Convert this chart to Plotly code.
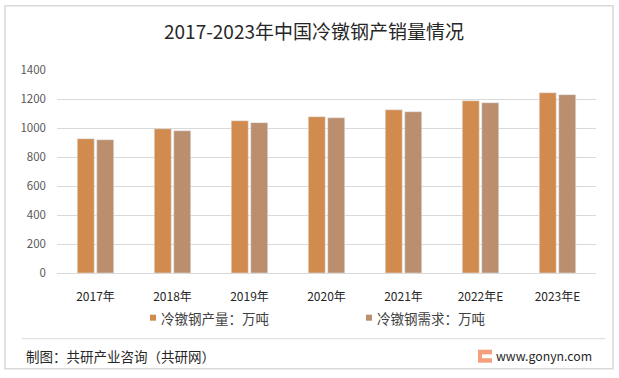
import plotly.graph_objects as go

categories = ["2017年", "2018年", "2019年", "2020年", "2021年", "2022年E", "2023年E"]
production = [926, 995, 1050, 1078, 1126, 1188, 1243]
demand = [919, 981, 1037, 1071, 1112, 1174, 1230]
series_names = ["冷镦钢产量：万吨", "冷镦钢需求：万吨"]
series_colors = ["#D28B4E", "#BB8E6E"]
title_text = "2017-2023年中国冷镦钢产销量情况"
source_text = "制图：共研产业咨询（共研网）"
site_text = "www.gonyn.com"

W, H = 619, 378
L, R, T, B = 57, 23, 70.3, 104.7
pw, ph = W - L - R, H - T - B

def px(x):
    return (x - L) / pw

def py(y):
    return (H - B - y) / ph

FONT = "Noto Sans CJK SC"

fig = go.Figure()
for name, vals, col in zip(series_names, [production, demand], series_colors):
    fig.add_bar(x=categories, y=vals, name=name, marker_color=col, showlegend=False)

fig.update_layout(
    width=W, height=H,
    margin=dict(l=L, r=R, t=T, b=B, autoexpand=False),
    paper_bgcolor="white", plot_bgcolor="white",
    barmode="group", bargap=0.494, bargroupgap=0.128,
    font=dict(family=FONT, color="#595959", size=12),
    showlegend=False,
    title=dict(text=title_text, x=px(314), xref="paper", xanchor="center", y=1 - 32 / H, yanchor="middle",
               font=dict(size=19, color="#262626", family=FONT)),
)
fig.update_yaxes(range=[0, 1400], dtick=200, showgrid=True, gridcolor="#D9D9D9", gridwidth=1,
                 zeroline=True, zerolinecolor="#D9D9D9", zerolinewidth=1, showline=False,
                 tickfont=dict(size=11.5, color="#595959"), ticks="", ticklabelstandoff=10)
fig.update_xaxes(showline=False, ticks="", tickfont=dict(size=12, color="#262626"),
                 ticklabelstandoff=15)

# manual legend (small squares close to text)
legend_x = [150, 366]
for lx, name, col in zip(legend_x, series_names, series_colors):
    fig.add_shape(type="rect", xref="paper", yref="paper", x0=px(lx), x1=px(lx + 6),
                  y0=py(321), y1=py(315), line=dict(width=0), fillcolor=col)
    fig.add_annotation(text=name, xref="paper", yref="paper", x=px(lx + 9), y=py(318),
                       xanchor="left", yanchor="middle", showarrow=False,
                       font=dict(size=13.5, color="#404040", family=FONT))

# outer border
fig.add_shape(type="rect", xref="paper", yref="paper", x0=px(5), x1=px(613), y0=py(369), y1=py(6),
              line=dict(color="#D9D9D9", width=1.5), fillcolor="rgba(0,0,0,0)", layer="below")
# separator line
fig.add_shape(type="line", xref="paper", yref="paper", x0=px(22), x1=px(605), y0=py(339), y1=py(339),
              line=dict(color="#D9D9D9", width=1))
# footer
fig.add_annotation(text=source_text, xref="paper", yref="paper", x=px(24), y=py(356),
                   xanchor="left", yanchor="middle", showarrow=False,
                   font=dict(size=13.5, color="#262626", family=FONT))
fig.add_annotation(text=site_text, xref="paper", yref="paper", x=px(594), y=py(356),
                   xanchor="right", yanchor="middle", showarrow=False,
                   font=dict(size=12.3, color="#262626", family=FONT))
# small logo
fig.add_shape(type="rect", xref="paper", yref="paper", x0=px(478), x1=px(492), y0=py(363), y1=py(350),
              line=dict(width=0), fillcolor="#F4A07C")
fig.add_shape(type="rect", xref="paper", yref="paper", x0=px(482), x1=px(492), y0=py(358.5), y1=py(354.5),
              line=dict(width=0), fillcolor="white")
fig.add_shape(type="rect", xref="paper", yref="paper", x0=px(482), x1=px(492), y0=py(354.5), y1=py(353),
              line=dict(width=0), fillcolor="#F4A07C")

fig.write_html("out.html", config={"displayModeBar": False},
               post_script="document.body.style.margin='0';")
